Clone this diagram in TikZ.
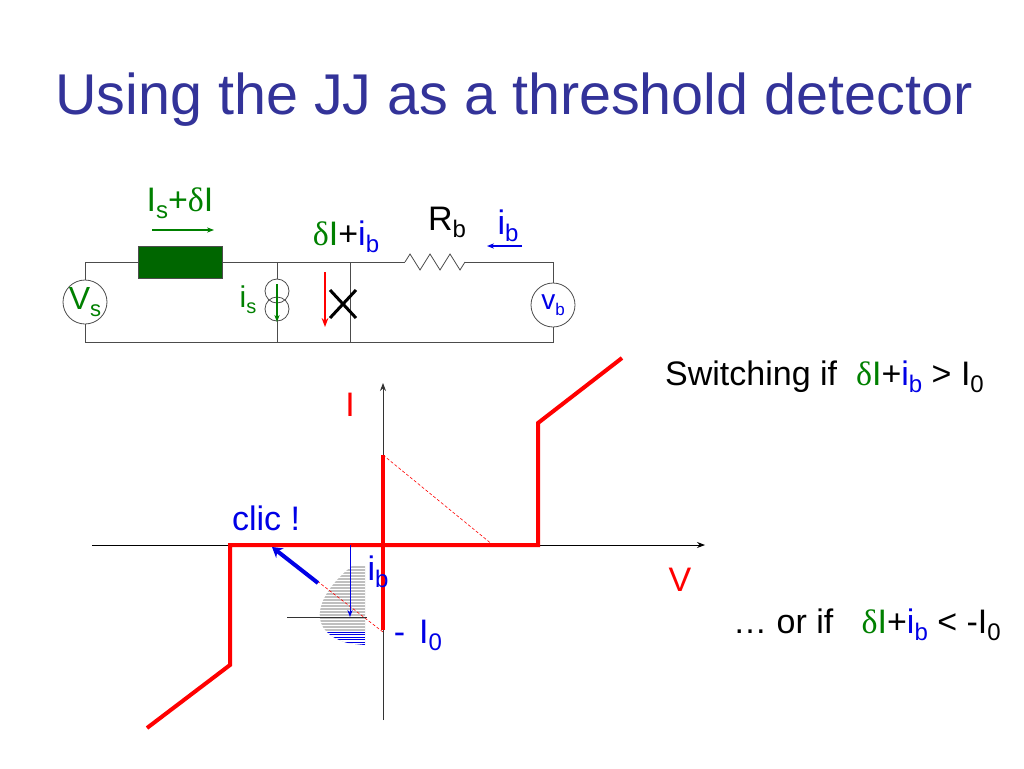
\documentclass[tikz,border=0pt]{standalone}
\usepackage{fontspec}
\setmainfont{Liberation Sans}
\newfontfamily\serf{Liberation Serif}
\usetikzlibrary{arrows.meta,decorations.pathmorphing}
\definecolor{ttl}{RGB}{51,51,153}
\definecolor{gr}{RGB}{0,128,0}
\definecolor{bl}{RGB}{0,0,230}
\newcommand{\dl}{{\serf\char"03B4}}
\newcommand{\sbs}[1]{\raisebox{-7pt}{\fontsize{24}{24}\selectfont #1}}
\begin{document}
\begin{tikzpicture}[x=1pt,y=-1pt,
  wire/.style={draw=black!70,line width=0.8pt},
  src/.style={circle,draw=black!70,line width=0.8pt,fill=white,minimum size=44pt,inner sep=0pt,font=\fontsize{32}{32}\selectfont},
  lab/.style={inner sep=0pt,font=\fontsize{34}{34}\selectfont},
  redl/.style={draw=red,line width=4pt}]
\useasboundingbox (0,0) rectangle (1024,768);
\node[anchor=west,text=ttl,font=\fontsize{57.5}{57.5}\selectfont,inner sep=0pt] (title) at (55,100) {Using the JJ as a threshold detector};
% circuit
\coordinate (tl) at (85,262); \coordinate (bl0) at (85,342);
\coordinate (tr) at (553,262); \coordinate (br) at (553,342);
\draw[wire] (tl) -- (395,262) (465,262) -- (tr) -- (br) -- (bl0) -- (tl);
\draw[wire] (277,262) -- (277,342) (350,262) -- (350,342);
\draw[wire,decorate,decoration={zigzag,segment length=20pt,amplitude=8pt}] (405,262) -- (465,262);
\draw[wire] (395,262)--(405,262);
\node[src] (vs) at (85,302) {\textcolor{gr}{V\raisebox{-7pt}{\fontsize{22}{22}\selectfont s}}};
\node[src] (vb) at (553,305) {\textcolor{bl}{\fontsize{28}{28}\selectfont v\raisebox{-6pt}{\fontsize{17}{17}\selectfont b}}};
\node[draw=black!70,fill=gr!80!black,minimum width=84pt,minimum height=32pt,inner sep=0pt] (box) at (180,262) {};
\node[circle,draw=black!70,line width=0.8pt,fill=white,minimum size=24pt,inner sep=0pt] (c1) at (277,291) {};
\node[circle,draw=black!70,line width=0.8pt,minimum size=24pt,inner sep=0pt] (c2) at (277,309) {};
\draw[gr,line width=1.3pt,-{Stealth[length=7pt]}] (277,284) -- (277,322);
\node[lab,text=gr,font=\fontsize{30}{30}\selectfont] (is) at (248,300) {i\raisebox{-6pt}{\fontsize{20}{20}\selectfont s}};
\node[lab,text=gr] (isdl) at (180,203) {I\sbs{s}+\dl I};
\coordinate (a1) at (152,230); \coordinate (a2) at (214,230);
\draw[gr,line width=1.2pt,-{Stealth[length=7pt]}] (a1) -- (a2);
\node[lab] (dib) at (346,237) {\textcolor{gr}{\dl I}+\textcolor{bl}{i\sbs{b}}};
\node[lab] (rb) at (447,222) {R\sbs{b}};
\node[lab,text=bl] (ib) at (508,226) {i\sbs{b}};
\coordinate (b1) at (522,246); \coordinate (b2) at (487,246);
\draw[bl,line width=1.2pt,-{Stealth[length=7pt]}] (b1) -- (b2);
\coordinate (r1) at (325,272); \coordinate (r2) at (325,327);
\draw[red,line width=1.8pt,-{Stealth[length=9pt]}] (r1) -- (r2);
\draw[line width=3pt] (330,290) -- (356,318) (330,318) -- (356,290);
% graph
\coordinate (xa) at (92,545); \coordinate (xb) at (705,545);
\coordinate (ya) at (383,720); \coordinate (yb) at (383,383);
\fill[black!25] (365,566) -- (352,566) .. controls (322,590) and (306,622) .. (335,638) .. controls (345,643) .. (365,645) -- cycle;
\foreach \yy in {568,571,...,631} \draw[white,line width=0.4pt] (310,\yy) -- (365,\yy);
\begin{scope}
\clip (365,566) -- (352,566) .. controls (322,590) and (306,622) .. (335,638) .. controls (345,643) .. (365,645) -- cycle;
\fill[white] (300,631) rectangle (366,646);
\foreach \yy in {632,634.5,...,646} \draw[bl,line width=0.9pt] (300,\yy) -- (365,\yy);
\end{scope}
\draw[black!80,line width=0.8pt] (287,617) -- (367,617);
\draw[black,line width=0.8pt,-{Stealth[length=8pt]}] (xa) -- (xb);
\draw[black!80,line width=0.8pt,-{Stealth[length=8pt]}] (ya) -- (yb);
\draw[redl] (147,728) -- (230,665) -- (230,545) -- (538,545) -- (538,423) -- (622,358);
\draw[redl] (383,455) -- (383,630);
\draw[red,line width=0.6pt,dash pattern=on 3pt off 2pt] (383,455) -- (493,545) (383,632) -- (272,546);
\draw[bl,line width=4pt,-{Stealth[length=10pt,width=12pt]}] (318,583) -- (272,547);
\draw[bl,line width=1pt,-{Stealth[length=7pt]}] (350,545) -- (350,617);
\node[lab,text=red] (Il) at (350,405) {I};
\node[lab,text=red] (Vl) at (680,580) {V};
\node[lab,text=bl] (clic) at (266,518) {clic !};
\node[lab,text=bl] (ibl) at (378,572) {i\sbs{b}};
\node[lab,text=bl] (i0) at (418,635) {-\hspace{14pt}I\sbs{0}};
\node[lab,anchor=west] (sw) at (665,377) {Switching if \ \textcolor{gr}{\dl I}+\textcolor{bl}{i\sbs{b}} > I\sbs{0}};
\node[lab,anchor=west] (or) at (733,625) {… or if \ \ \textcolor{gr}{\dl I}+\textcolor{bl}{i\sbs{b}} < -I\sbs{0}};
\end{tikzpicture}
\end{document}
